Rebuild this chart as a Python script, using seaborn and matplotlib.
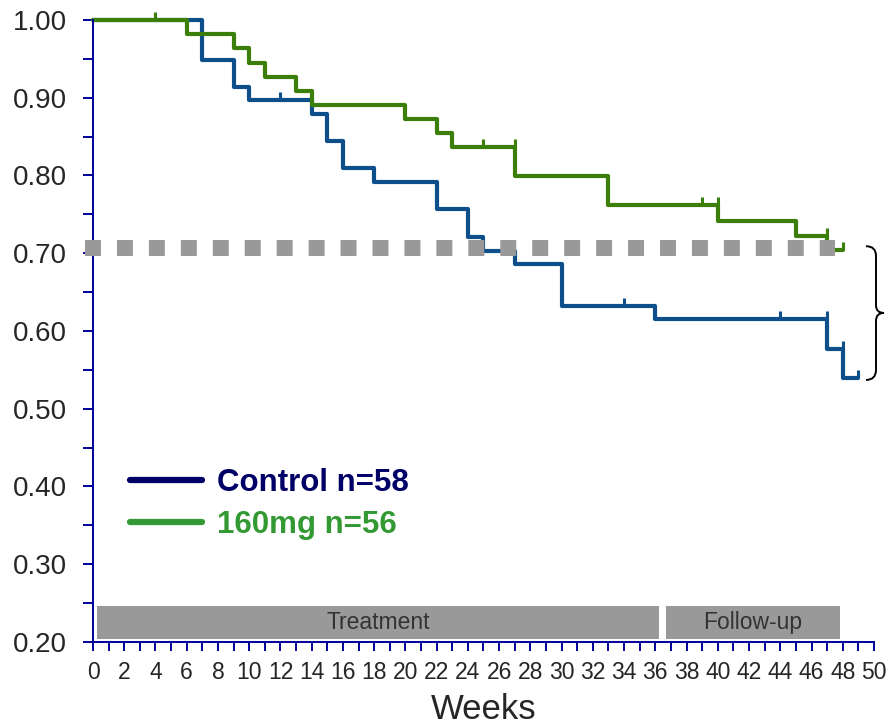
import numpy as np
import pandas as pd
import matplotlib
matplotlib.use("Agg")
import matplotlib.pyplot as plt
import seaborn as sns
from matplotlib.path import Path
from matplotlib.patches import PathPatch, Rectangle
from matplotlib.lines import Line2D
from matplotlib.ticker import MultipleLocator, FormatStrFormatter

# Kaplan-Meier step data
ctrl_weeks = [0, 7, 9, 10, 14, 15, 16, 18, 22, 24, 25, 27, 30, 36, 47, 48, 49]
ctrl_surv = [1.0, 0.948, 0.914, 0.897, 0.879, 0.844, 0.809, 0.792, 0.757, 0.721, 0.703,
             0.686, 0.632, 0.615, 0.577, 0.540, 0.540]
ctrl_censor = [12, 34, 44, 47, 48, 49]

trt_weeks = [0, 6, 9, 10, 11, 13, 14, 20, 22, 23, 27, 33, 40, 45, 47, 48]
trt_surv = [1.0, 0.982, 0.964, 0.945, 0.927, 0.909, 0.891, 0.873, 0.855, 0.836, 0.799,
            0.762, 0.742, 0.722, 0.704, 0.704]
trt_censor = [4, 25, 27, 39, 40, 47, 48]

ref_level = 0.707
phases = ["Treatment", "Follow-up"]
phase_start = [0.25, 36.7]
phase_end = [36.25, 47.8]

ctrl_label = "Control n=58"
trt_label = "160mg n=56"
ctrl_color = "#0d4f8b"
trt_color = "#3b7f0a"
ctrl_leg = "#000066"
trt_leg = "#339933"
axis_color = "#000099"

sns.set_style("white")
plt.rcParams["font.family"] = ["Liberation Sans", "DejaVu Sans"]

ctrl_df = pd.DataFrame({"week": ctrl_weeks, "surv": ctrl_surv})
trt_df = pd.DataFrame({"week": trt_weeks, "surv": trt_surv})


def level_before(weeks, surv, t):
    # survival just before time t (where the censor tick sits)
    idx = [i for i, w in enumerate(weeks) if w < t]
    return surv[idx[-1]] if idx else surv[0]


fig = plt.figure(figsize=(8.9, 7.25), dpi=100)
ax = fig.add_axes([0.1045, 0.1145, 0.8775, 0.858])

sns.lineplot(data=ctrl_df, x="week", y="surv", ax=ax, color=ctrl_color, lw=3,
             drawstyle="steps-post", estimator=None, sort=False, clip_on=False, legend=False)
sns.lineplot(data=trt_df, x="week", y="surv", ax=ax, color=trt_color, lw=3,
             drawstyle="steps-post", estimator=None, sort=False, clip_on=False, legend=False)

# censor ticks (small vertical marks above the line)
tick_mark = Path([(0, 0), (0, 1)], [Path.MOVETO, Path.LINETO])
ax.plot(ctrl_censor, [level_before(ctrl_weeks, ctrl_surv, t) for t in ctrl_censor],
        ls="none", marker=tick_mark, ms=11, mew=2.2, color=ctrl_color, clip_on=False, zorder=3)
ax.plot(trt_censor, [level_before(trt_weeks, trt_surv, t) for t in trt_censor],
        ls="none", marker=tick_mark, ms=11, mew=2.2, color=trt_color, clip_on=False, zorder=3)

# dotted reference line
ax.plot([-0.51, 47.5], [ref_level, ref_level], color="#999999", lw=11.5,
        dashes=(1, 1), dash_capstyle="butt", clip_on=False, zorder=4)

# phase bars
for name, x0, x1 in zip(phases, phase_start, phase_end):
    ax.add_patch(Rectangle((x0, 0.2039), x1 - x0, 0.0424, facecolor="#999999",
                           edgecolor="none", zorder=2))
    ax.text((x0 + x1) / 2, 0.2251, name, ha="center", va="center",
            fontsize=16.5, color="#333333", zorder=3)

# curly brace on the right
bx0, bx1, bx2 = 49.49, 50.13, 50.64
verts = [(bx0, 0.709), (bx1, 0.709), (bx1, 0.6965), (bx1, 0.633),
         (bx1, 0.6232), (bx2, 0.6232), (bx1, 0.6232), (bx1, 0.613),
         (bx1, 0.55), (bx1, 0.537), (bx0, 0.537)]
codes = [Path.MOVETO, Path.CURVE3, Path.CURVE3, Path.LINETO,
         Path.CURVE3, Path.CURVE3, Path.CURVE3, Path.CURVE3,
         Path.LINETO, Path.CURVE3, Path.CURVE3]
ax.add_patch(PathPatch(Path(verts, codes), facecolor="none", edgecolor="black",
                       lw=1.4, clip_on=False))

ax.set_xlim(0, 50)
ax.set_ylim(0.2, 1.0)
ax.xaxis.set_major_locator(MultipleLocator(2))
ax.xaxis.set_minor_locator(MultipleLocator(1))
ax.yaxis.set_major_locator(MultipleLocator(0.1))
ax.yaxis.set_minor_locator(MultipleLocator(0.05))
ax.yaxis.set_major_formatter(FormatStrFormatter("%.2f"))
ax.tick_params(axis="y", which="both", direction="out", length=7.5, width=1.4,
               color=axis_color, labelsize=20, pad=11, left=True)
ax.tick_params(axis="x", which="both", direction="out", length=6.5, width=1.4,
               color=axis_color, labelsize=16.5, pad=7, bottom=True)
for s in ["top", "right"]:
    ax.spines[s].set_visible(False)
for s in ["left", "bottom"]:
    ax.spines[s].set_color(axis_color)
    ax.spines[s].set_linewidth(1.4)
ax.set_xlabel("Weeks", fontsize=25, labelpad=7)
ax.set_ylabel("")

handles = [Line2D([], [], color=ctrl_leg, lw=4.5), Line2D([], [], color=trt_leg, lw=4.5)]
leg = ax.legend(handles, [ctrl_label, trt_label], loc="upper left",
                bbox_to_anchor=(0.047, 0.279), frameon=False, borderpad=0, borderaxespad=0,
                handlelength=2.3, handletextpad=0.48, labelspacing=0.36,
                prop={"weight": "bold", "size": 22.5}, labelcolor=[ctrl_leg, trt_leg])

fig.savefig("out.png", dpi=100)
